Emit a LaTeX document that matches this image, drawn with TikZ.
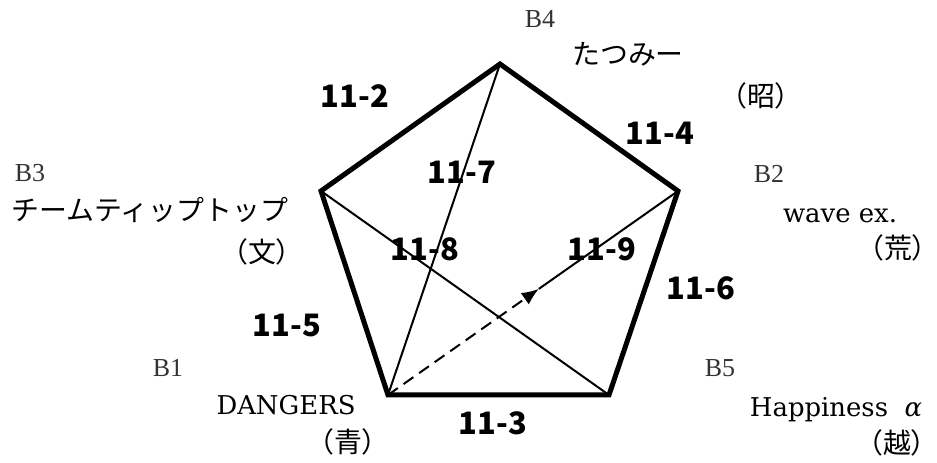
\documentclass[tikz,border=0pt]{standalone}
\usepackage{amsmath}
\usepackage{fontspec}
\newfontfamily\jpfont{Noto Sans CJK JP}
\newfontfamily\tagfont{Liberation Serif}
\newfontfamily\namefont{DejaVu Serif}
\usetikzlibrary{arrows.meta,calc}

\begin{document}
\begin{tikzpicture}[
  x=0.5bp, y=-0.5bp, >=Latex,
  side/.style={line width=2.5bp, line join=miter},
  diag/.style={line width=1bp},
  tag/.style={inner sep=0pt, anchor=base, text=black!80, font=\tagfont\fontsize{13}{13}\selectfont},
  team/.style={inner sep=0pt, anchor=base, font=\namefont\fontsize{13}{13}\selectfont},
  jteam/.style={inner sep=0pt, font=\jpfont\fontsize{14}{14}\selectfont},
  pref/.style={inner sep=0pt, font=\jpfont\fontsize{14}{14}\selectfont},
  match/.style={inner sep=0pt, font=\jpfont\bfseries\fontsize{15.5}{15.5}\selectfont},
]
  \useasboundingbox (0,0) rectangle (937,463);

  \coordinate (B4) at (500,64);
  \coordinate (B3) at (321,191);
  \coordinate (B2) at (678,191);
  \coordinate (B1) at (388,395);
  \coordinate (B5) at (609,395);
  \coordinate (mid) at ($(B1)!0.52!(B2)$);

  \draw[side] (B1) -- (B5) -- (B2) -- (B4) -- (B3) -- cycle;
  \draw[diag] (B4) -- (B1);
  \draw[diag] (B3) -- (B5);
  \draw[diag, dash pattern=on 6bp off 3.5bp, -{Latex[length=8.5bp, width=7bp]}] (B1) -- (mid);
  \draw[diag] (mid) -- (B2);

  \node[tag]   (b4tag)  at (540,28)  {B4};
  \node[jteam] (b4name) at (628,54)  {たつみー};
  \node[pref]  (b4pref) at (761,96)  {（昭）};
  \node[tag]   (b3tag)  at (30,182)  {B3};
  \node[jteam] (b3name) at (150,210) {チームティップトップ};
  \node[pref]  (b3pref) at (262,252) {（文）};
  \node[tag]   (b2tag)  at (769,183) {B2};
  \node[team]  (b2name) at (840,223) {wave ex.};
  \node[pref]  (b2pref) at (898,248) {（荒）};
  \node[tag]   (b1tag)  at (168,377) {B1};
  \node[team]  (b1name) at (286,415) {DANGERS};
  \node[pref]  (b1pref) at (348,442) {（青）};
  \node[tag]   (b5tag)  at (720,377) {B5};
  \node[team]  (b5name) at (836,417) {Happiness\ \ \textit{α}};
  \node[pref]  (b5pref) at (897,443) {（越）};

  \node[match] (m2) at (355,96)  {11-2};
  \node[match] (m4) at (660,133) {11-4};
  \node[match] (m7) at (462,172) {11-7};
  \node[match] (m8) at (425,249) {11-8};
  \node[match] (m9) at (602,249) {11-9};
  \node[match] (m6) at (701,288) {11-6};
  \node[match] (m5) at (287,326) {11-5};
  \node[match] (m3) at (493,423) {11-3};
\end{tikzpicture}
\end{document}
